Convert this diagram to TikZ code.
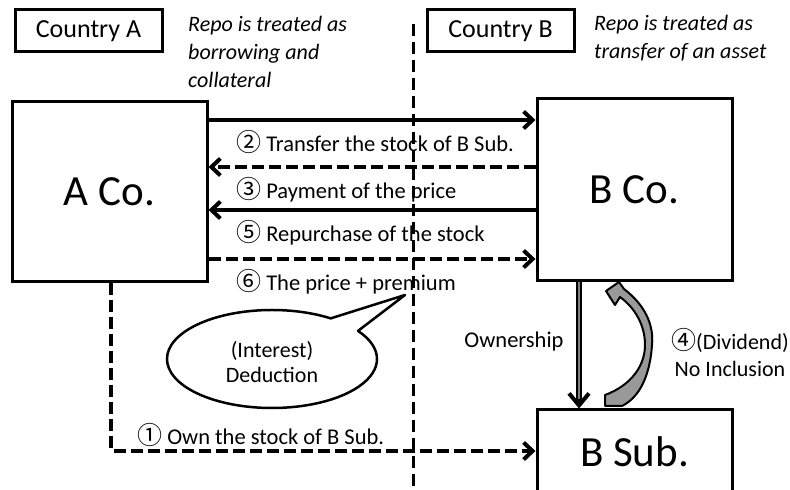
\documentclass[tikz,border=0pt]{standalone}
\usepackage{fontspec}
\setmainfont{Carlito}
\newfontfamily\cjk{Noto Sans CJK JP}
\usetikzlibrary{arrows.meta,calc}
\newcommand{\cnum}[1]{{\cjk\fontsize{25}{26}\selectfont #1}}

\begin{document}
\begin{tikzpicture}[x=1pt,y=1pt,
  box/.style={draw, line width=3pt, minimum width=195pt, inner sep=0pt,
    font=\fontsize{43}{50}\selectfont},
  ctry/.style={draw, line width=3pt, minimum width=147pt, minimum height=42pt,
    inner sep=0pt, font=\fontsize{26}{31}\selectfont},
  note/.style={anchor=base west, align=left, inner sep=0pt,
    font=\fontsize{22}{28}\selectfont\itshape},
  lbl/.style={inner sep=0pt, font=\fontsize{22.5}{26}\selectfont},
  flow/.style={line width=4pt, -{Straight Barb[length=9pt,width=17pt]}},
  dashedflow/.style={flow, dash pattern=on 12pt off 5pt},
  border/.style={line width=3pt, dash pattern=on 12pt off 6pt},
]
\clip (0,0) rectangle (790,490);
\fill[white] (0,0) rectangle (790,490);

% border between the two countries
\coordinate (divtop) at (413,466);
\coordinate (divbot) at (413,0);
\draw[border] (divtop) -- (divbot);

% country headings (notes are placed by the baseline of their last line)
\node[ctry] (ctryA) at (88.5,459) {Country A};
\node[ctry] (ctryB) at (500.5,459) {Country B};
\node[note] (noteA) at (188,402) {Repo is treated as\\borrowing and\\collateral};
\node[note] (noteB) at (594,431) {Repo is treated as\\transfer of an asset};

% entities
\node[box, minimum height=180pt] (aco) at (109.5,298) {A Co.};
\node[box, minimum height=182pt] (bco) at (634.5,300) {B Co.};
\node[box, minimum height=84pt] (bsub) at (634.5,38) {B Sub.};

% repo flows between A Co. and B Co.
\coordinate (y2) at (0,370);
\coordinate (y3) at (0,323);
\coordinate (y5) at (0,280);
\coordinate (y6) at (0,231);
\draw[flow] (aco.east |- y2) -- (bco.west |- y2);
\draw[dashedflow] (bco.west |- y3) -- (aco.east |- y3);
\draw[flow] (bco.west |- y5) -- (aco.east |- y5);
\draw[dashedflow] (aco.east |- y6) -- (bco.west |- y6);

\node[lbl, anchor=west] (l2) at (236,348) {\cnum{②} Transfer the stock of B Sub.};
\node[lbl, anchor=west] (l3) at (236,300) {\cnum{③} Payment of the price};
\node[lbl, anchor=west] (l5) at (236,257) {\cnum{⑤} Repurchase of the stock};
\node[lbl, anchor=west] (l6) at (236,208) {\cnum{⑥} The price + premium};

% original holding of B Sub.
\coordinate (c1) at (111,39);
\draw[dashedflow] (aco.south -| c1) -- (c1) -- (bsub.west |- c1);
\node[lbl, anchor=west] (l1) at (137,55) {\cnum{①} Own the stock of B Sub.};

% ownership link
\coordinate (own) at (579,0);
\draw[line width=5.6pt, -{Straight Barb[length=12pt,width=20pt,line width=4pt]}]
  (bco.south -| own) -- (bsub.north -| own);
\draw[black!50, line width=2.4pt] (bco.south -| own) -- ($(bsub.north -| own)+(0,9)$);
\node[lbl] (lown) at (514,148) {Ownership};

% dividend block arrow
\filldraw[fill=black!40, draw=black, line width=2pt, line join=round]
  (606,199) -- (619,208) -- (624,201)
  .. controls (645,185) and (654,165) .. (652,145)
  .. controls (650,115) and (640,93) .. (622,84)
  -- (605,84) -- (605,95)
  .. controls (632,105) and (645,125) .. (645,145)
  .. controls (645,165) and (635,182) .. (620,193)
  -- (615,185) -- cycle;
\node[lbl, align=center, font=\fontsize{22}{27}\selectfont] (ldiv) at (730,137)
  {\cnum{④}(Dividend)\\No Inclusion};

% speech bubble
\draw[line width=2.5pt, fill=white, line join=round]
  (272,131) ++(56:105pt and 49pt)
  arc[start angle=56, end angle=395, x radius=105pt, y radius=49pt]
  -- (405,195) -- cycle;
\node[lbl, align=center, font=\fontsize{22}{25}\selectfont] (bubble) at (272,128)
  {(Interest)\\Deduction};
\end{tikzpicture}
\end{document}
